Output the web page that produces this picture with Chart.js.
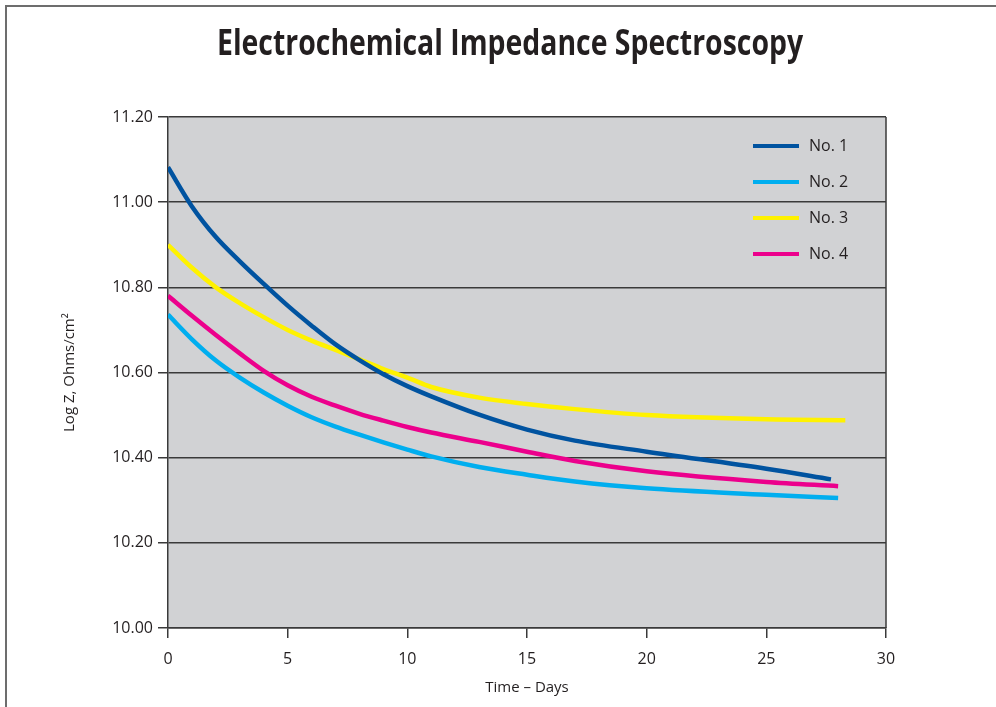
<!DOCTYPE html>
<html>
<head>
<meta charset="utf-8">
<script src="https://cdn.jsdelivr.net/npm/chart.js@4.4.1/dist/chart.umd.min.js"></script>
<style>
  html, body { margin: 0; padding: 0; background: #fff; }
  #wrap { position: relative; width: 996px; height: 707px; overflow: hidden; }
  #frame { position: absolute; left: 5px; top: 5px; width: 1200px; height: 1200px;
           border-top: 2px solid #6d6d6d; border-left: 2px solid #6d6d6d; }
  #myChart { position: absolute; left: 0; top: 0; }
  #title { position: absolute; left: 510px; top: 20px; white-space: nowrap;
           font-family: 'Open Sans', sans-serif; font-weight: 700; font-size: 35px;
           line-height: 44px; color: #231f20; transform-origin: 0 0; }
</style>
</head>
<body>
<div id="wrap">
  <div id="frame"></div>
  <canvas id="myChart" width="996" height="707"></canvas>
  <div id="title">Electrochemical Impedance Spectroscopy</div>
</div>
<script>
// days at which the curves were read, last point of each series is at endDays[i]
const days = [0, 1, 2, 3, 4, 5, 6, 7, 8, 9, 10, 11, 13, 15, 17, 20, 25];
const endDays = [27.7, 28.0, 28.3, 28.0];

const labels = ['No. 1', 'No. 2', 'No. 3', 'No. 4'];
const colors = ['#0053a0', '#00aeef', '#fff200', '#ec008c'];

const no1 = [11.082, 10.99, 10.918, 10.861, 10.808, 10.757, 10.71, 10.666, 10.629, 10.596, 10.568, 10.544, 10.501, 10.466, 10.44, 10.414, 10.374, 10.349];
const no2 = [10.736, 10.678, 10.628, 10.588, 10.553, 10.522, 10.495, 10.473, 10.454, 10.436, 10.419, 10.403, 10.378, 10.36, 10.344, 10.328, 10.313, 10.305];
const no3 = [10.90, 10.846, 10.80, 10.763, 10.73, 10.70, 10.675, 10.653, 10.631, 10.608, 10.588, 10.566, 10.541, 10.526, 10.514, 10.50, 10.49, 10.488];
const no4 = [10.78, 10.733, 10.688, 10.645, 10.604, 10.57, 10.543, 10.522, 10.503, 10.487, 10.472, 10.459, 10.437, 10.414, 10.392, 10.368, 10.343, 10.333];

const yTicks = [10.0, 10.2, 10.4, 10.6, 10.8, 11.0, 11.2];

function toPoints(values, end) {
  const xs = days.concat([end]);
  return values.map((v, i) => ({ x: xs[i], y: v }));
}

const series = [no1, no2, no3, no4];

// fit the title to the width it has in the reference, centred on x = 510
const title = document.getElementById('title');
const k = 586 / title.offsetWidth;
title.style.transform = 'translateX(' + (-293) + 'px) scaleX(' + k + ')';

Chart.defaults.font.family = "'Open Sans', sans-serif";
Chart.defaults.font.size = 16;
Chart.defaults.color = '#231f20';

// grey plot background, right edge of the box and the legend
const plotBg = {
  id: 'plotBg',
  beforeDraw(chart) {
    const { ctx, chartArea: a } = chart;
    ctx.save();
    ctx.fillStyle = '#d1d2d4';
    ctx.fillRect(a.left, a.top, a.right - a.left, a.bottom - a.top);
    ctx.restore();
  },
  afterDraw(chart) {
    const { ctx, chartArea: a } = chart;
    ctx.save();
    ctx.strokeStyle = '#3a3a3a';
    ctx.lineWidth = 1.5;
    ctx.beginPath();
    ctx.moveTo(a.right, a.top);
    ctx.lineTo(a.right, a.bottom);
    ctx.stroke();

    ctx.font = "16px 'Open Sans', sans-serif";
    ctx.textBaseline = 'middle';
    ctx.textAlign = 'left';
    chart.data.datasets.forEach((ds, i) => {
      const y = 146 + i * 36;
      ctx.strokeStyle = ds.borderColor;
      ctx.lineWidth = 4;
      ctx.beginPath();
      ctx.moveTo(753, y);
      ctx.lineTo(799, y);
      ctx.stroke();
      ctx.fillStyle = '#231f20';
      ctx.fillText(ds.label, 809, y);
    });
    ctx.restore();
  }
};

new Chart(document.getElementById('myChart'), {
  type: 'line',
  data: {
    datasets: series.map((s, i) => ({
      label: labels[i],
      data: toPoints(s, endDays[i]),
      borderColor: colors[i],
      borderWidth: 4.5,
      pointRadius: 0,
      fill: false,
      cubicInterpolationMode: 'monotone'
    }))
  },
  options: {
    responsive: false,
    animation: false,
    layout: { padding: { left: 0, right: 110, top: 117, bottom: 0 } },
    plugins: {
      legend: { display: false },
      tooltip: { enabled: false },
      title: { display: false }
    },
    scales: {
      x: {
        type: 'linear',
        min: 0,
        max: 30,
        afterFit(scale) { scale.height = 79; },
        ticks: { stepSize: 5, padding: 12 },
        grid: { drawOnChartArea: false, drawTicks: true, tickLength: 10, color: '#3a3a3a', lineWidth: 1.5 },
        border: { color: '#3a3a3a', width: 1.5 },
        title: { display: true, text: 'Time – Days', font: { size: 15, lineHeight: 1.2 }, padding: { top: 0, bottom: 10 } }
      },
      y: {
        min: 10,
        max: 11.2,
        afterFit(scale) { scale.width = 168; },
        afterBuildTicks(scale) { scale.ticks = yTicks.map(v => ({ value: v })); },
        ticks: { padding: 5, callback: v => Number(v).toFixed(2) },
        grid: { color: '#3a3a3a', lineWidth: 1.5, tickLength: 10 },
        border: { color: '#3a3a3a', width: 1.5 },
        title: { display: true, text: 'Log Z, Ohms/cm²', font: { size: 15, lineHeight: 1.2 }, padding: { top: 61, bottom: 0 } }
      }
    }
  },
  plugins: [plotBg]
});
</script>
</body>
</html>
